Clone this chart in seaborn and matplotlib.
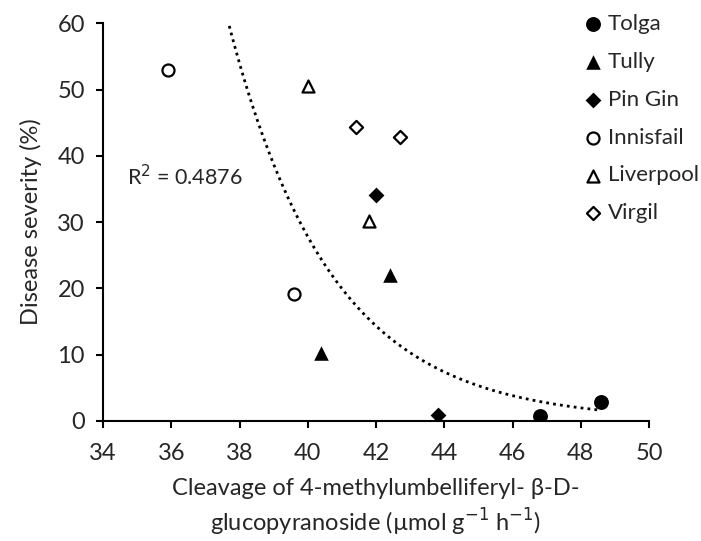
import numpy as np
import pandas as pd
import seaborn as sns
import matplotlib.pyplot as plt

# ==== data
sites = ["Tolga", "Tully", "Pin Gin", "Innisfail", "Liverpool", "Virgil"]
tolga_x = [46.8, 48.6]
tolga_y = [0.8, 2.9]
tully_x = [40.4, 42.4]
tully_y = [10.2, 22.0]
pingin_x = [42.0, 43.8]
pingin_y = [34.1, 0.9]
innisfail_x = [35.9, 39.6]
innisfail_y = [52.9, 19.2]
liverpool_x = [40.0, 41.8]
liverpool_y = [50.5, 30.1]
virgil_x = [41.4, 42.7]
virgil_y = [44.3, 42.9]

data = pd.DataFrame({
    "site": sum([[s] * 2 for s in sites], []),
    "x": tolga_x + tully_x + pingin_x + innisfail_x + liverpool_x + virgil_x,
    "y": tolga_y + tully_y + pingin_y + innisfail_y + liverpool_y + virgil_y,
})

# marker, filled?
styles = {
    "Tolga": ("o", True),
    "Tully": ("^", True),
    "Pin Gin": ("D", True),
    "Innisfail": ("o", False),
    "Liverpool": ("^", False),
    "Virgil": ("D", False),
}
sizes = {("o", True): 115, ("^", True): 110, ("D", True): 65,
         ("o", False): 75, ("^", False): 75, ("D", False): 45}

sns.set_style("ticks")
plt.rcParams['font.family'] = ['Lato', 'DejaVu Sans']

fig = plt.figure(figsize=(7.01, 5.41), dpi=100)
ax = fig.add_axes([0.147, 0.222, 0.779, 0.735])

for site in sites:
    m, filled = styles[site]
    sub = data[data["site"] == site]
    sns.scatterplot(x="x", y="y", data=sub, ax=ax, marker=m, s=sizes[(m, filled)],
                    color="black" if filled else "white", edgecolor="black",
                    linewidth=0 if filled else 1.6, label=site, zorder=3)

# ==== exponential trendline (fit on log y, like Excel)
b, ln_a = np.polyfit(data["x"], np.log(data["y"]), 1)
xs = np.linspace(data["x"].min(), data["x"].max(), 200)
ax.plot(xs, np.exp(ln_a) * np.exp(b * xs), color="black", lw=2,
        linestyle=(0, (1, 1.5)), zorder=2)
ax.text(34.7, 36.8, "R$^2$ = 0.4876", fontsize=15.5, va="center", ha="left")

ax.set_xlim(34, 50)
ax.set_ylim(0, 60)
ax.set_xticks(range(34, 51, 2))
ax.set_yticks(range(0, 61, 10))
ax.tick_params(labelsize=17, width=1.5, length=5, color="black")
ax.tick_params(axis="x", pad=11)
ax.tick_params(axis="y", pad=8)
for side in ["left", "bottom"]:
    ax.spines[side].set_linewidth(1.5)
    ax.spines[side].set_color("black")
sns.despine(ax=ax)

ax.set_xlabel("Cleavage of 4-methylumbelliferyl- β-D-\nglucopyranoside (µmol g$^{-1}$ h$^{-1}$)",
              fontsize=17, linespacing=1.3, labelpad=10)
ax.set_ylabel("Disease severity (%)", fontsize=17, labelpad=11)

ax.legend(loc="upper left", bbox_to_anchor=(0.816, 0.99), bbox_transform=fig.transFigure,
          frameon=False, fontsize=16, handletextpad=0.1, labelspacing=0.8,
          handlelength=1.1, borderaxespad=0)

fig.savefig("out.png", dpi=100)
